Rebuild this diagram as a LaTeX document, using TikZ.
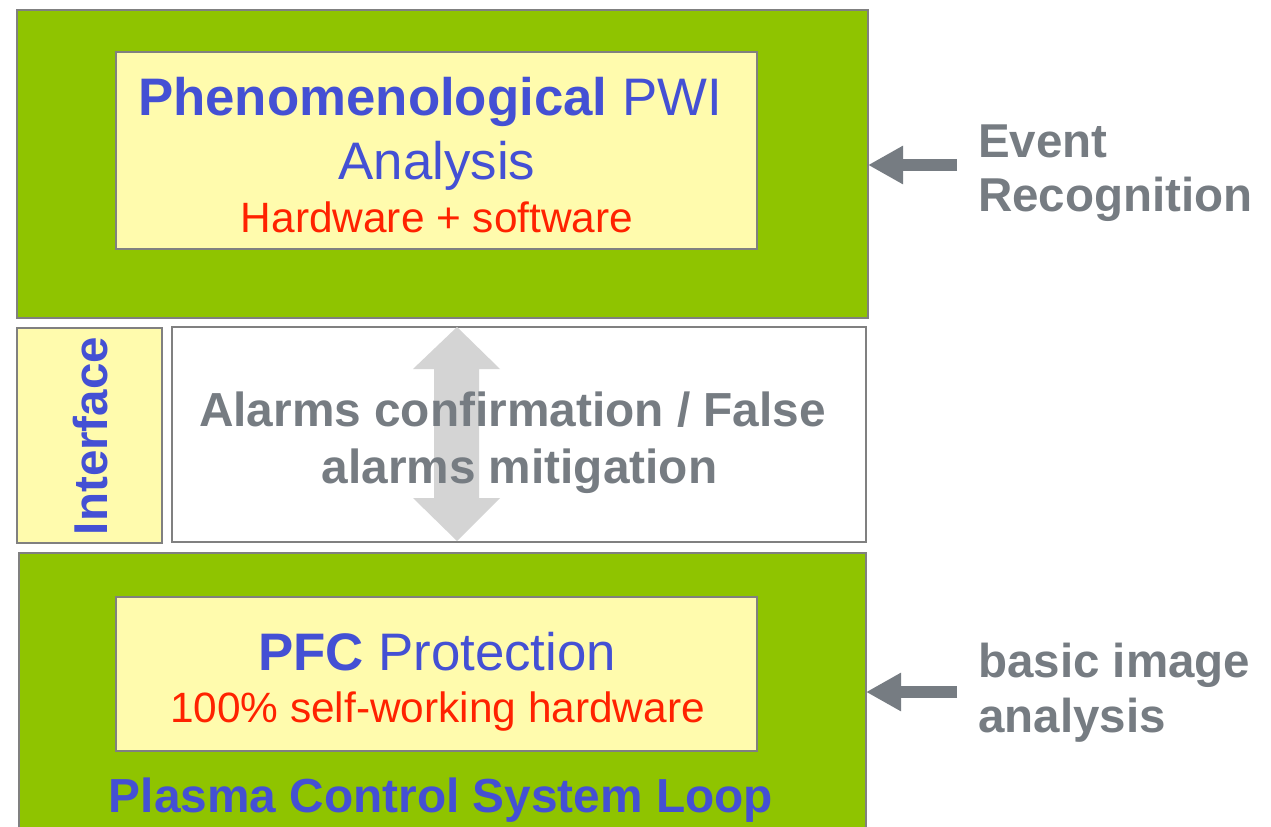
\documentclass[tikz,border=0pt]{standalone}
\usepackage{fontspec}
\setmainfont{Liberation Sans}
\usetikzlibrary{arrows.meta}

\definecolor{boxgreen}{RGB}{143,196,0}
\definecolor{boxyellow}{RGB}{255,251,173}
\definecolor{edgegray}{RGB}{128,128,128}
\definecolor{titleblue}{RGB}{68,80,212}
\definecolor{notered}{RGB}{255,34,0}
\definecolor{labelgray}{RGB}{118,124,130}
\definecolor{flowgray}{RGB}{212,212,212}

\newcommand{\fs}[1]{\fontsize{#1bp}{#1bp}\selectfont}

\begin{document}
\begin{tikzpicture}[x=1bp,y=-1bp,
  panel/.style={draw=edgegray,line width=2bp,anchor=north west,inner sep=0pt,outer sep=0pt},
  txt/.style={anchor=base,inner sep=0pt},
  sidearrow/.style={draw=labelgray,line width=12bp,-{Triangle[length=35bp,width=36bp]}},
]
\clip (0,0) rectangle (1271,827);
\fill[white] (0,0) rectangle (1271,827);

% upper block: phenomenological analysis
\node[panel,fill=boxgreen,minimum width=851bp,minimum height=308bp] (upper) at (17,10) {};
\node[panel,fill=boxyellow,minimum width=641bp,minimum height=197bp] (phen) at (116,52) {};
\node[txt,text=titleblue] (phenA) at (430,115) {\fs{52.8}\textbf{Phenomenological} PWI};
\node[txt,text=titleblue] (phenB) at (437,179) {\fs{52.8}Analysis};
\node[txt,text=notered] (phenC) at (437,232) {\fs{42.4}Hardware + software};

% interface strip
\node[panel,fill=boxyellow,minimum width=145bp,minimum height=215bp] (iface) at (17,328) {};
\node[rotate=90,inner sep=0pt,text=titleblue] (ifaceT) at (91,436) {\fs{47.5}\textbf{Interface}};
\node[panel,fill=white,minimum width=694bp,minimum height=215bp] (alarm) at (172,327) {};

% two-way exchange between the layers
\coordinate (t) at (457,327);
\coordinate (b) at (457,541);
\fill[flowgray] (t) -- (500,369) -- (479,369) -- (479,498) -- (500,498) -- (b)
  -- (413,498) -- (434,498) -- (434,369) -- (413,369) -- cycle;
\node[txt,text=labelgray] (alarmA) at (512.5,426) {\fs{47.8}\textbf{Alarms confirmation / False}};
\node[txt,text=labelgray] (alarmB) at (519.5,483) {\fs{47.8}\textbf{alarms mitigation}};

% lower block: plasma control loop
\node[panel,fill=boxgreen,minimum width=847bp,minimum height=300bp] (lower) at (19,553) {};
\node[panel,fill=boxyellow,minimum width=641bp,minimum height=154bp] (pfc) at (116,597) {};
\node[txt,text=titleblue] (pfcA) at (437,670) {\fs{52.8}\textbf{PFC} Protection};
\node[txt,text=notered] (pfcB) at (437.5,722) {\fs{42.4}100\% self-working hardware};
\node[txt,text=titleblue] (loop) at (441,812) {\fs{47.8}\textbf{Plasma Control System Loop}};

% side labels with their arrows
\node[anchor=base west,inner sep=0pt,text=labelgray] (ev1) at (978,157) {\fs{47.5}\textbf{Event}};
\node[anchor=base west,inner sep=0pt,text=labelgray] (ev2) at (978,211) {\fs{47.5}\textbf{Recognition}};
\coordinate (evtail) at (957,165);
\draw[sidearrow] (evtail) -- (evtail -| upper.east);

\node[anchor=base west,inner sep=0pt,text=labelgray] (im1) at (978,677) {\fs{47.5}\textbf{basic image}};
\node[anchor=base west,inner sep=0pt,text=labelgray] (im2) at (978,732) {\fs{47.5}\textbf{analysis}};
\coordinate (imtail) at (957,692);
\draw[sidearrow] (imtail) -- (imtail -| lower.east);
\end{tikzpicture}
\end{document}
